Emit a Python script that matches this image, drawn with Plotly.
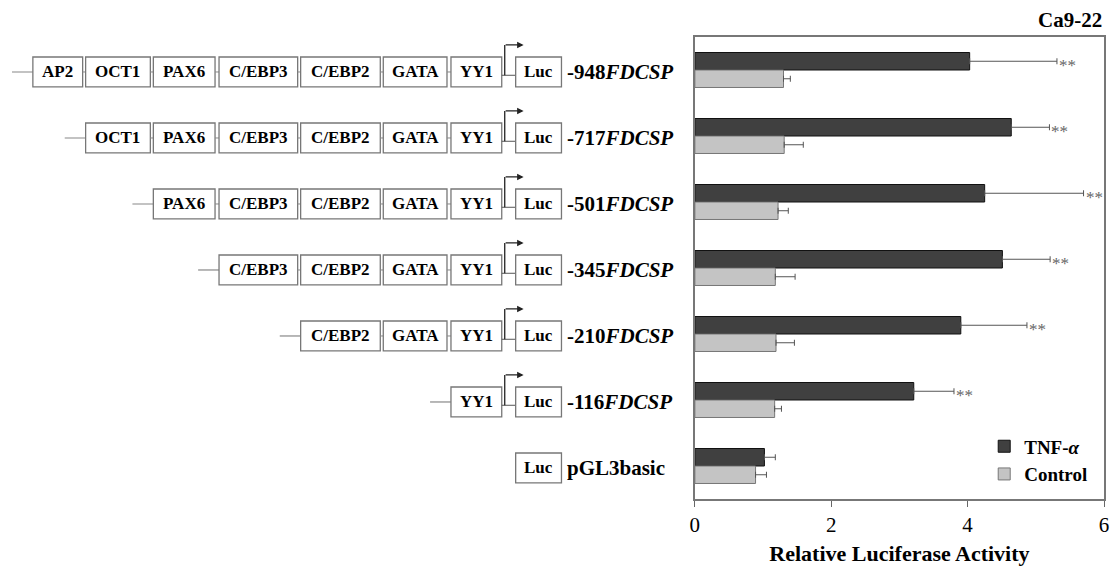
import plotly.graph_objects as go

# ---- data ----
constructs = ["-948", "-717", "-501", "-345", "-210", "-116", "pGL3basic"]
tnf = [4.03, 4.64, 4.25, 4.51, 3.90, 3.21, 1.02]
tnf_err = [1.28, 0.56, 1.45, 0.70, 0.97, 0.59, 0.16]
ctrl = [1.30, 1.31, 1.22, 1.18, 1.19, 1.17, 0.89]
ctrl_err = [0.10, 0.28, 0.15, 0.29, 0.27, 0.10, 0.16]
sig = ["**", "**", "**", "**", "**", "**", ""]
labels = ["<b>-948<i>FDCSP</i></b>", "<b>-717<i>FDCSP</i></b>", "<b>-501<i>FDCSP</i></b>",
          "<b>-345<i>FDCSP</i></b>", "<b>-210<i>FDCSP</i></b>", "<b>-116<i>FDCSP</i></b>",
          "<b>pGL3basic</b>"]
elements = ["AP2", "OCT1", "PAX6", "C/EBP3", "C/EBP2", "GATA", "YY1"]
n_elements = [7, 6, 5, 4, 3, 1, 0]
x_ticks = [0, 2, 4, 6]

# ---- diagram layout (pixel units on hidden axis x2) ----
elem_x0 = [28, 81, 149, 215, 297, 380, 448]
elem_x1 = [78, 146, 211, 294, 377, 444, 499]
luc_x0, luc_x1 = 513, 559
label_x = 563
half_h = 0.227
FONT = "Liberation Serif"
BOX_LINE = "#777777"

fig = go.Figure()
fig.add_trace(go.Bar(
    y=constructs, x=tnf, orientation="h", name="<b>TNF-<i>α</i></b>",
    marker=dict(color="#404040", line=dict(color="#111111", width=1)),
    error_x=dict(type="data", symmetric=False, array=tnf_err, arrayminus=[0] * len(tnf),
                 color="#555555", thickness=1, width=3),
))
fig.add_trace(go.Bar(
    y=constructs, x=ctrl, orientation="h", name="<b>Control</b>",
    marker=dict(color="#c4c4c4", line=dict(color="#777777", width=1)),
    error_x=dict(type="data", symmetric=False, array=ctrl_err, arrayminus=[0] * len(ctrl),
                 color="#555555", thickness=1, width=3),
))

shapes = []
annotations = []

for i, c in enumerate(constructs):
    yc = i + 0.03
    k = n_elements[i]
    idxs = list(range(len(elements) - k, len(elements)))
    if k > 0:
        first_x = elem_x0[idxs[0]]
        shapes.append(dict(type="line", xref="x2", yref="y", x0=first_x - 21, x1=first_x,
                           y0=yc, y1=yc, line=dict(color="#888888", width=1.2)))
        for j, e in enumerate(idxs):
            shapes.append(dict(type="rect", xref="x2", yref="y", x0=elem_x0[e], x1=elem_x1[e],
                               y0=yc - half_h, y1=yc + half_h,
                               line=dict(color=BOX_LINE, width=1.3), fillcolor="white"))
            annotations.append(dict(xref="x2", yref="y", x=(elem_x0[e] + elem_x1[e]) / 2, y=yc,
                                    text="<b>%s</b>" % elements[e], showarrow=False,
                                    font=dict(family=FONT, size=17, color="black")))
            if j < len(idxs) - 1:
                shapes.append(dict(type="line", xref="x2", yref="y", x0=elem_x1[e],
                                   x1=elem_x0[idxs[j + 1]], y0=yc, y1=yc,
                                   line=dict(color="#888888", width=1)))
        # promoter connection and arrow
        shapes.append(dict(type="line", xref="x2", yref="y", x0=elem_x1[-1], x1=luc_x0,
                           y0=yc + 0.05, y1=yc + 0.05, line=dict(color="#555555", width=1)))
        shapes.append(dict(type="line", xref="x2", yref="y", x0=502, x1=502,
                           y0=yc + 0.05, y1=yc - 0.41, line=dict(color="#222222", width=1.3)))
        annotations.append(dict(xref="x2", yref="y", axref="x2", ayref="y",
                                x=521, y=yc - 0.41, ax=501.4, ay=yc - 0.41, text="",
                                showarrow=True, arrowhead=2, arrowsize=1, arrowwidth=1.3,
                                arrowcolor="#222222"))
    shapes.append(dict(type="rect", xref="x2", yref="y", x0=luc_x0, x1=luc_x1,
                       y0=yc - half_h, y1=yc + half_h,
                       line=dict(color=BOX_LINE, width=1.3), fillcolor="white"))
    annotations.append(dict(xref="x2", yref="y", x=(luc_x0 + luc_x1) / 2, y=yc,
                            text="<b>Luc</b>", showarrow=False,
                            font=dict(family=FONT, size=17, color="black")))
    annotations.append(dict(xref="x2", yref="y", x=label_x, y=yc, xanchor="left",
                            text=labels[i], showarrow=False,
                            font=dict(family=FONT, size=21, color="black")))
    if sig[i]:
        annotations.append(dict(xref="x", yref="y", x=tnf[i] + tnf_err[i], y=i - 0.1325,
                                xanchor="left", yshift=-4, text=sig[i], showarrow=False,
                                font=dict(family=FONT, size=17, color="#666666")))

annotations.append(dict(xref="x2", yref="y", x=513, y=-0.56, text="<b>+60</b>",
                        showarrow=False, font=dict(family=FONT, size=15, color="black")))
annotations.append(dict(xref="paper", yref="paper", x=1.0, y=1.037, xanchor="right",
                        yanchor="middle", text="<b>Ca9-22</b>", showarrow=False,
                        font=dict(family=FONT, size=21, color="black")))

fig.update_layout(
    width=1110, height=574,
    margin=dict(l=0, r=6, t=37, b=75),
    paper_bgcolor="white", plot_bgcolor="white",
    barmode="group", bargap=0.47, bargroupgap=0,
    font=dict(family=FONT, color="black"),
    showlegend=True,
    legend=dict(x=0.891, y=0.155, xanchor="left", yanchor="top",
                font=dict(family=FONT, size=19, color="black"),
                bgcolor="rgba(0,0,0,0)", traceorder="normal"),
    xaxis=dict(domain=[693 / 1104, 1], range=[0, 6], tickvals=x_ticks,
               ticks="outside", ticklen=6, tickcolor="#666666",
               showline=True, linecolor="#777777", linewidth=1.5, mirror=True,
               showgrid=False, zeroline=False,
               tickfont=dict(family=FONT, size=21, color="black"),
               title=dict(text="<b>Relative Luciferase Activity</b>",
                          font=dict(family=FONT, size=22, color="black"), standoff=10)),
    xaxis2=dict(domain=[0, 693 / 1104], range=[0, 693], anchor="y", visible=False,
                fixedrange=True),
    yaxis=dict(categoryorder="array", categoryarray=constructs, range=[6.5, -0.5],
               showticklabels=False, ticks="", showgrid=False, zeroline=False,
               showline=True, linecolor="#777777", linewidth=1.5, mirror=True),
    shapes=shapes,
    annotations=annotations,
)

fig.write_html("out.html", config={"displayModeBar": False},
               post_script="document.body.style.margin='0px';document.body.style.overflow='hidden';")
